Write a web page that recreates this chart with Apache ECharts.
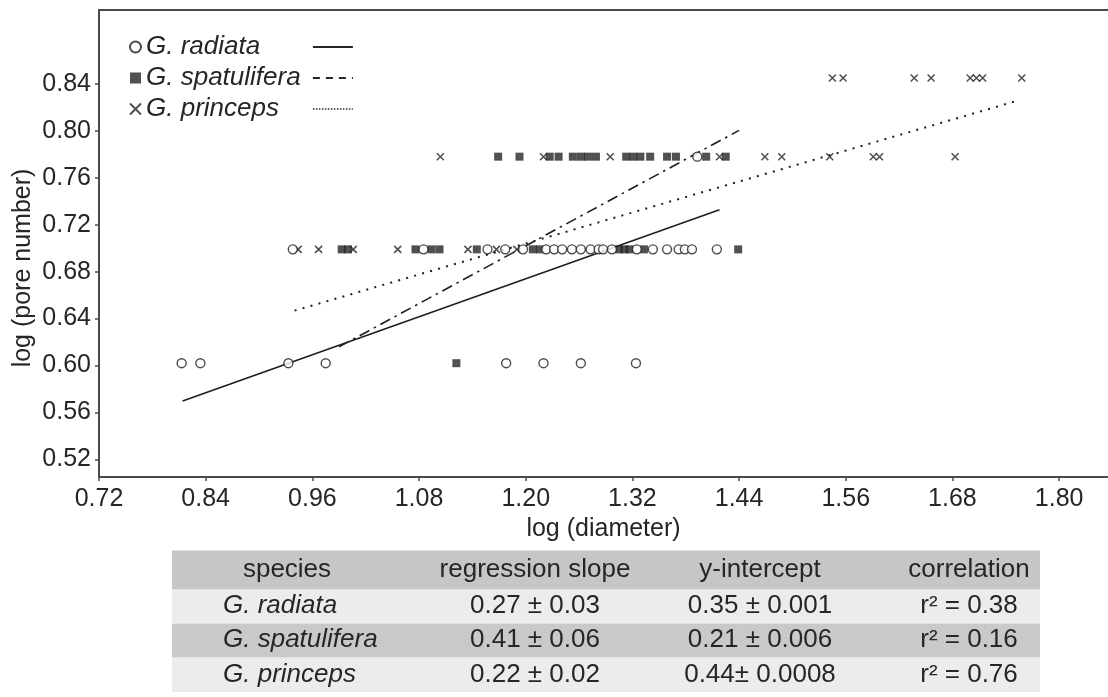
<!DOCTYPE html>
<html>
<head>
<meta charset="utf-8">
<script src="https://cdn.jsdelivr.net/npm/echarts@6/dist/echarts.min.js"></script>
<style>
  html, body { margin: 0; padding: 0; background: #ffffff; }
  #chart { width: 1108px; height: 697px; }
</style>
</head>
<body>
<div id="chart"></div>
<script>
// Tick positions on both axes
const logDiameterTicks = [0.72, 0.84, 0.96, 1.08, 1.20, 1.32, 1.44, 1.56, 1.68, 1.80];
const logPoreTicks = [0.52, 0.56, 0.60, 0.64, 0.68, 0.72, 0.76, 0.80, 0.84];

// Specimens: [log (diameter), log (pore number)]
const radiataPoints = [
  [0.813, 0.602], [0.834, 0.602], [0.933, 0.602], [0.975, 0.602],
  [1.178, 0.602], [1.220, 0.602], [1.262, 0.602], [1.324, 0.602],
  [0.938, 0.699], [1.085, 0.699], [1.157, 0.699], [1.177, 0.699],
  [1.197, 0.699], [1.223, 0.699], [1.232, 0.699], [1.241, 0.699],
  [1.252, 0.699], [1.262, 0.699], [1.273, 0.699], [1.282, 0.699],
  [1.287, 0.699], [1.297, 0.699], [1.325, 0.699], [1.343, 0.699],
  [1.359, 0.699], [1.372, 0.699], [1.379, 0.699], [1.387, 0.699],
  [1.415, 0.699], [1.393, 0.778]
];
const spatuliferaPoints = [
  [1.122, 0.602],
  [0.993, 0.699], [1.000, 0.699], [1.076, 0.699], [1.094, 0.699],
  [1.103, 0.699], [1.145, 0.699], [1.208, 0.699], [1.216, 0.699],
  [1.305, 0.699], [1.311, 0.699], [1.317, 0.699], [1.333, 0.699],
  [1.439, 0.699],
  [1.169, 0.778], [1.193, 0.778], [1.227, 0.778], [1.237, 0.778],
  [1.253, 0.778], [1.262, 0.778], [1.270, 0.778], [1.279, 0.778],
  [1.313, 0.778], [1.321, 0.778], [1.329, 0.778], [1.340, 0.778],
  [1.359, 0.778], [1.369, 0.778], [1.403, 0.778], [1.425, 0.778]
];
const princepsPoints = [
  [0.944, 0.699], [0.967, 0.699], [1.006, 0.699], [1.056, 0.699],
  [1.135, 0.699], [1.167, 0.699], [1.190, 0.699],
  [1.104, 0.778], [1.220, 0.778], [1.295, 0.778], [1.418, 0.778],
  [1.469, 0.778], [1.488, 0.778], [1.542, 0.778], [1.591, 0.778],
  [1.598, 0.778], [1.683, 0.778],
  [1.545, 0.845], [1.557, 0.845], [1.637, 0.845], [1.656, 0.845],
  [1.700, 0.845], [1.707, 0.845], [1.714, 0.845], [1.758, 0.845]
];

// Regression summary table
const tableHeader = ['species', 'regression slope', 'y-intercept', 'correlation'];
const speciesNames = ['G. radiata', 'G. spatulifera', 'G. princeps'];
const slopeCells = ['0.27 ± 0.03', '0.41 ± 0.06', '0.22 ± 0.02'];
const interceptCells = ['0.35 ± 0.001', '0.21 ± 0.006', '0.44± 0.0008'];
const r2Values = [0.38, 0.16, 0.76];

// Diameter span covered by each fitted line
const fitStart = [0.814, 0.99, 0.94];
const fitEnd = [1.418, 1.44, 1.755];

const FONT = '"Liberation Sans", Arial, Helvetica, sans-serif';
const INK = '#262626';
const AXIS = '#4a4a4a';

// Fitted lines use the slope and intercept listed in the table
function fitLine(i) {
  const m = parseFloat(slopeCells[i]);
  const b = parseFloat(interceptCells[i]);
  return [[fitStart[i], m * fitStart[i] + b], [fitEnd[i], m * fitEnd[i] + b]];
}

const fitStyles = [
  { type: 'solid', width: 1.6 },
  { type: [11, 5, 2.5, 5], width: 1.6 },
  { type: [2, 6.3], width: 2 }
];
const legendLineStyles = [
  { type: 'solid', width: 1.8, color: INK },
  { type: [7, 6], width: 1.8, color: INK },
  { type: [1.5, 1.5], width: 1.5, color: INK }
];
const fitNames = ['radiata fit', 'spatulifera fit', 'princeps fit'];

// Table drawing
const tableLeft = 172, tableRight = 1040;
const rowTops = [550, 589, 623, 657];
const rowHeights = [39, 34, 34, 35];
const rowFills = ['#c6c6c6', '#ececec', '#c9c9c9', '#ececec'];
const colCenters = [287, 535, 760, 969];
const nameLeft = 223;

const graphics = [];
rowTops.forEach(function (top, r) {
  graphics.push({
    type: 'rect', silent: true,
    shape: { x: tableLeft, y: top, width: tableRight - tableLeft, height: rowHeights[r] },
    style: { fill: rowFills[r] }
  });
});
// faint rules between table rows
rowTops.forEach(function (top) {
  graphics.push({
    type: 'line', silent: true,
    shape: { x1: tableLeft, y1: top + 0.5, x2: tableRight, y2: top + 0.5 },
    style: { stroke: '#e2e2e2', lineWidth: 1 }
  });
});
const textCenters = [570, 606, 640, 675];
tableHeader.forEach(function (h, c) {
  graphics.push({
    type: 'text', silent: true, x: colCenters[c], y: textCenters[0],
    style: { text: h, fontSize: 26, fontFamily: FONT, fill: INK, align: 'center', verticalAlign: 'middle' }
  });
});
speciesNames.forEach(function (name, i) {
  const y = textCenters[i + 1];
  const cells = [slopeCells[i], interceptCells[i], 'r² = ' + r2Values[i].toFixed(2)];
  graphics.push({
    type: 'text', silent: true, x: nameLeft, y: y,
    style: { text: name, fontSize: 26, fontStyle: 'italic', fontFamily: FONT, fill: INK, align: 'left', verticalAlign: 'middle' }
  });
  cells.forEach(function (t, c) {
    graphics.push({
      type: 'text', silent: true, x: colCenters[c + 1], y: y,
      style: { text: t, fontSize: 26, fontFamily: FONT, fill: INK, align: 'center', verticalAlign: 'middle' }
    });
  });
});
// Vertical axis title
graphics.push({
  type: 'text', silent: true, x: 23, y: 268, rotation: Math.PI / 2,
  style: { text: 'log (pore number)', fontSize: 25, fontFamily: FONT, fill: INK, align: 'center', verticalAlign: 'middle' }
});

const chart = echarts.init(document.getElementById('chart'), null, { renderer: 'canvas' });

const series = [
  {
    name: 'G. radiata', type: 'scatter', data: radiataPoints,
    symbol: 'circle', symbolSize: 9, z: 4,
    itemStyle: { color: '#ffffff', borderColor: '#1e1e1e', borderWidth: 1.4 }
  },
  {
    name: 'G. spatulifera', type: 'scatter', data: spatuliferaPoints,
    symbol: 'rect', symbolSize: 8, z: 3,
    itemStyle: { color: '#262626' }
  },
  {
    name: 'G. princeps', type: 'scatter', data: princepsPoints,
    symbol: 'path://M0,0L10,10M10,0L0,10', symbolSize: 7, z: 3,
    itemStyle: { color: 'rgba(0,0,0,0)', borderColor: '#222222', borderWidth: 1.5 }
  }
];
fitNames.forEach(function (n, i) {
  series.push({
    name: n, type: 'line', data: fitLine(i), symbol: 'none', silent: true, z: 2,
    itemStyle: { color: '#1e1e1e' },
    lineStyle: Object.assign({ color: '#1e1e1e', cap: 'butt' }, fitStyles[i])
  });
});

const hiddenMarker = { color: 'rgba(0,0,0,0)', borderColor: 'rgba(0,0,0,0)', borderWidth: 0, opacity: 0 };

chart.setOption({
  animation: false,
  backgroundColor: '#ffffff',
  textStyle: { fontFamily: FONT },
  grid: { left: 99, top: 10, right: 0, bottom: 220, containLabel: false },
  legend: [
    {
      data: speciesNames, orient: 'vertical', left: 129, top: 34, padding: 0,
      itemWidth: 11, itemHeight: 11, itemGap: 5, selectedMode: false,
      textStyle: { fontSize: 26, fontStyle: 'italic', color: INK, lineHeight: 26, fontFamily: FONT }
    },
    {
      data: fitNames.map(function (n, i) {
        return { name: n, lineStyle: legendLineStyles[i], itemStyle: hiddenMarker };
      }),
      orient: 'vertical', left: 312, top: 34, padding: 0,
      itemWidth: 40, itemHeight: 11, itemGap: 5, selectedMode: false,
      formatter: function () { return ' '; },
      textStyle: { fontSize: 26, color: INK, lineHeight: 26, fontFamily: FONT }
    }
  ],
  xAxis: [
    {
      type: 'value', min: 0.72, max: 1.855,
      axisLine: { show: true, onZero: false, lineStyle: { color: AXIS, width: 2 } },
      axisTick: { show: true, customValues: logDiameterTicks, length: 4, lineStyle: { color: AXIS, width: 1.5 } },
      axisLabel: {
        customValues: logDiameterTicks, margin: 10, fontSize: 25, color: INK, fontFamily: FONT,
        formatter: function (v) { return v.toFixed(2); }
      },
      splitLine: { show: false },
      name: 'log (diameter)', nameLocation: 'middle', nameGap: 34,
      nameTextStyle: { fontSize: 25, color: INK, fontFamily: FONT }
    },
    {
      type: 'value', min: 0.72, max: 1.855, position: 'top',
      axisLine: { show: true, onZero: false, lineStyle: { color: AXIS, width: 2 } },
      axisTick: { show: false }, axisLabel: { show: false }, splitLine: { show: false }
    }
  ],
  yAxis: {
    type: 'value', min: 0.505, max: 0.903,
    axisLine: { show: true, onZero: false, lineStyle: { color: AXIS, width: 2 } },
    axisTick: { show: true, customValues: logPoreTicks, length: 4, lineStyle: { color: AXIS, width: 1.5 } },
    axisLabel: {
      customValues: logPoreTicks, margin: 8, fontSize: 25, color: INK, fontFamily: FONT,
      formatter: function (v) { return v.toFixed(2); }
    },
    splitLine: { show: false }
  },
  graphic: graphics,
  series: series
});
</script>
</body>
</html>
